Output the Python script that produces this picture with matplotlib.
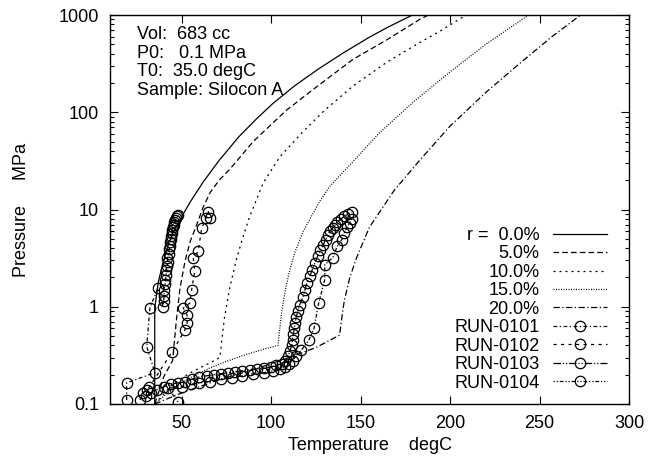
import matplotlib
matplotlib.use("Agg")
import matplotlib.pyplot as plt
from matplotlib.ticker import FixedLocator, FixedFormatter, LogLocator, NullFormatter

plt.rcParams['font.family'] = ['Liberation Sans', 'DejaVu Sans']

# model curves, r = water ratio
t_r00 = [35, 35, 37, 40, 43, 46, 50, 55, 62, 71, 82, 92, 101, 113, 126, 140, 155, 165, 179]
p_r00 = [0.1, 0.97, 1.8, 3.0, 4.6, 6.2, 8.4, 12.1, 19.1, 32, 56, 86, 123, 186, 275, 404, 592, 745, 1000]

t_r05 = [35, 40, 45, 47, 49, 52, 55, 58.5, 62, 66, 71, 77, 90, 108.6, 125, 145.6, 165, 183, 188]
p_r05 = [0.1, 0.19, 0.28, 0.7, 1.5, 3.0, 4.8, 7.0, 10.5, 15, 20, 26, 50, 105, 180, 348, 560, 900, 1000]

t_r10 = [35, 45, 55, 65, 71.4, 73, 74, 77, 80.9, 84, 88, 95.5, 105, 117.8, 130, 145.6, 165, 183, 196, 209]
p_r10 = [0.1, 0.16, 0.21, 0.26, 0.30, 0.55, 0.78, 1.6, 3.2, 5.0, 8.4, 18.6, 35, 63, 105, 185, 330, 520, 710, 1000]

t_r15 = [35, 45, 55, 65, 75, 85, 95, 103.8, 106, 108, 110, 113, 118, 127, 133, 145, 160, 180, 200, 220, 244]
p_r15 = [0.1, 0.144, 0.187, 0.231, 0.274, 0.318, 0.362, 0.40, 0.9, 1.5, 2.2, 3.5, 6.0, 12, 17.5, 30, 60, 130, 260, 500, 1000]

t_r20 = [35, 50, 70, 90, 110, 125, 138.3, 140, 141, 144, 147.8, 155, 169, 183, 200, 220, 240, 257, 273]
p_r20 = [0.1, 0.13, 0.175, 0.225, 0.30, 0.38, 0.51, 0.9, 1.17, 2.0, 3.2, 6.6, 15.9, 32, 72, 160, 330, 600, 1000]

# measured runs
t_0101 = [19.3, 19.3, 35.1, 30.5, 32.3, 36.8, 39.6, 40.0, 40.3, 40.1, 40.8, 41.0, 41.5, 41.2, 42.0, 42.3,
          42.1, 42.8, 43.0, 43.5, 43.3, 44.0, 44.3, 44.8, 44.6, 45.2, 45.6, 46.0, 46.5, 47.0, 47.5, 48.0]
p_0101 = [0.11, 0.165, 0.21, 0.39, 0.98, 1.55, 1.0, 1.15, 1.3, 1.5, 1.7, 1.9, 2.1, 2.4, 2.6, 2.9,
          3.2, 3.5, 3.9, 4.2, 4.6, 5.0, 5.4, 5.8, 6.2, 6.6, 7.0, 7.4, 7.8, 8.2, 8.5, 8.8]

t_0102 = [26.7, 28.5, 30.5, 32.0, 44.6, 51.9, 53.1, 53.1, 50.9, 54.6, 55.6, 57.4, 56.5, 59.3, 61.2, 63.6,
          64.9, 65.8]
p_0102 = [0.11, 0.13, 0.14, 0.15, 0.34, 0.58, 0.68, 0.82, 0.97, 1.09, 1.49, 2.35, 3.2, 3.7, 6.4, 8.1,
          9.5, 8.1]

t_0103 = [30, 33, 36, 40, 44, 48, 52, 56, 60, 64, 68, 72, 76, 80, 84, 88, 92, 96, 100, 103, 106, 108,
          109.5, 110.5, 111.5, 112, 112.5, 113, 113.5, 114, 115, 116, 117.8, 119, 120, 121.6, 123, 124.4,
          126, 127.5, 129, 130.5, 131.7, 133, 134.5, 136, 137, 139, 141, 143, 145]
p_0103 = [0.12, 0.13, 0.14, 0.15, 0.16, 0.165, 0.17, 0.18, 0.19, 0.195, 0.2, 0.205, 0.21, 0.215, 0.22,
          0.225, 0.23, 0.235, 0.24, 0.25, 0.26, 0.28, 0.31, 0.35, 0.4, 0.46, 0.53, 0.6, 0.68, 0.78, 0.9,
          1.05, 1.25, 1.5, 1.75, 2.05, 2.4, 2.8, 3.3, 3.8, 4.3, 4.9, 5.5, 6.0, 6.5, 7.0, 7.5, 8.0, 8.5,
          9.0, 9.4]

t_0104 = [48, 42.4, 50, 55, 60, 66, 72, 78, 84, 90, 96, 101, 105, 108, 110, 112, 114, 117, 121, 124,
          126.6, 130, 130, 134.5, 137, 139.5, 141, 142.5, 144, 145]
p_0104 = [0.105, 0.146, 0.15, 0.16, 0.165, 0.17, 0.18, 0.185, 0.195, 0.205, 0.21, 0.22, 0.23, 0.24,
          0.26, 0.28, 0.31, 0.36, 0.45, 0.6, 1.09, 1.9, 2.7, 3.2, 4.2, 4.9, 5.8, 6.6, 7.3, 8.0]

xticks = [50, 100, 150, 200, 250, 300]
yticks = [0.1, 1, 10, 100, 1000]
ytick_labels = ['0.1', '1', '10', '100', '1000']

info_lines = ['Vol:  683 cc', 'P0:   0.1 MPa', 'T0:  35.0 degC', 'Sample: Silocon A']

FS = 13

fig = plt.figure(figsize=(6.6, 4.63), dpi=100)
ax = fig.add_axes([110 / 660, 1 - 404 / 463, 519 / 660, 389 / 463])

lw = 0.9
ax.plot(t_r00, p_r00, color='black', lw=lw, ls='-', label='r =  0.0%')
ax.plot(t_r05, p_r05, color='black', lw=lw, ls=(0, (4.5, 2.5)), label='5.0%')
ax.plot(t_r10, p_r10, color='black', lw=lw, ls=(0, (1.6, 3.2)), label='10.0%')
ax.plot(t_r15, p_r15, color='black', lw=lw, ls=(0, (0.8, 1.2)), label='15.0%')
ax.plot(t_r20, p_r20, color='black', lw=lw, ls=(0, (5, 2, 1, 2)), label='20.0%')

mk = dict(color='black', lw=lw, marker='o', markersize=7.5, markerfacecolor='none',
          markeredgecolor='black', markeredgewidth=0.9)
ax.plot(t_0101, p_0101, ls=(0, (3, 2, 1, 2)), label='RUN-0101', **mk)
ax.plot(t_0102, p_0102, ls=(0, (2.5, 3.5)), label='RUN-0102', **mk)
ax.plot(t_0103, p_0103, ls=(0, (6, 1.5, 1, 1.5, 1, 1.5)), label='RUN-0103', **mk)
ax.plot(t_0104, p_0104, ls=(0, (1, 1.5, 1, 1.5, 3, 1.5)), label='RUN-0104', **mk)

ax.set_yscale('log')
ax.set_xlim(10, 300)
ax.set_ylim(0.1, 1000)

ax.xaxis.set_major_locator(FixedLocator(xticks))
ax.yaxis.set_major_locator(FixedLocator(yticks))
ax.yaxis.set_major_formatter(FixedFormatter(ytick_labels))
ax.yaxis.set_minor_locator(LogLocator(base=10, subs=range(2, 10)))
ax.yaxis.set_minor_formatter(NullFormatter())
ax.tick_params(which='both', direction='in', top=True, right=True, labelsize=FS, pad=8, width=0.8)
ax.tick_params(which='major', length=6)
ax.tick_params(which='minor', length=3)
for s in ax.spines.values():
    s.set_linewidth(1.0)

ax.set_xlabel('Temperature    degC', fontsize=FS)
ax.set_ylabel('Pressure     MPa', fontsize=FS)
ax.xaxis.set_label_coords(0.5, -0.085)
ax.yaxis.set_label_coords(-0.17, 0.5)
ax.yaxis.label.set_va('center')

for i, line in enumerate(info_lines):
    ax.text(27 / 519, 0.9486 - i * 0.0475, line, transform=ax.transAxes,
            fontsize=FS, va='center', ha='left')

leg = ax.legend(loc='lower right', bbox_to_anchor=(0.9576, 0.032), frameon=False,
                markerfirst=False, fontsize=FS, numpoints=1, handlelength=3.0,
                handletextpad=0.75, labelspacing=0.08, borderpad=0, borderaxespad=0)

fig.savefig('out.png', dpi=100)
